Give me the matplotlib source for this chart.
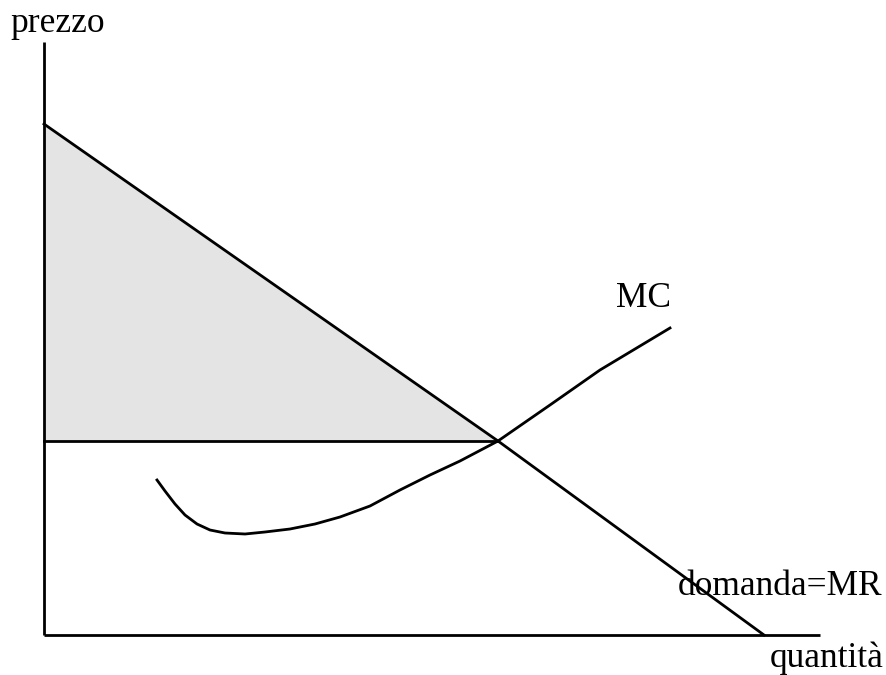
import matplotlib
matplotlib.use("Agg")
import matplotlib.pyplot as plt

# coordinates: quantity (x) and price (y) in chart units
demand_q = [0, 454, 720]
demand_p = [511, 194, 0]

price_level = 194
price_q_end = 454

mc_q = [113, 121, 131, 141, 153, 166, 181, 201, 221, 246, 271, 296, 326, 356, 386, 416, 454, 506, 556, 596, 626]
mc_p = [155, 144, 131, 120, 111, 105, 102, 101, 103, 106, 111, 118, 129, 145, 160, 174, 194, 230, 265, 289, 307]

axis_q_max = 776
axis_p_max = 593

labels = {"y": "prezzo", "x": "quantità", "mc": "MC", "d": "domanda=MR"}

plt.rcParams['font.family'] = ['Liberation Serif', 'DejaVu Serif']

fig = plt.figure(figsize=(8.87, 6.75), dpi=100)
ax = fig.add_axes([0, 0, 1, 1])
ax.set_xlim(-44, 843)
ax.set_ylim(-40, 635)
ax.axis('off')

lw = 2.0
# shaded triangle
ax.fill([0, 0, price_q_end], [demand_p[0], price_level, price_level],
        color='#e4e4e4', lw=0, zorder=1)

ax.plot([0, 0], [0, axis_p_max], color='black', lw=lw, solid_capstyle='butt', zorder=3)
ax.plot([0, axis_q_max], [0, 0], color='black', lw=lw, solid_capstyle='butt', zorder=3)
ax.plot(demand_q, demand_p, color='black', lw=lw, zorder=3)
ax.plot([0, price_q_end], [price_level, price_level], color='black', lw=lw, zorder=3)
ax.plot(mc_q, mc_p, color='black', lw=lw, zorder=3, solid_joinstyle='round')

fs = 25.5
ax.text(-34, 603, labels["y"], fontsize=fs, va='baseline', ha='left')
ax.text(726, -32, labels["x"], fontsize=fs, va='baseline', ha='left')
ax.text(572, 328, labels["mc"], fontsize=fs, va='baseline', ha='left')
ax.text(634, 40, labels["d"], fontsize=fs, va='baseline', ha='left')

fig.savefig("out.png", dpi=100)
